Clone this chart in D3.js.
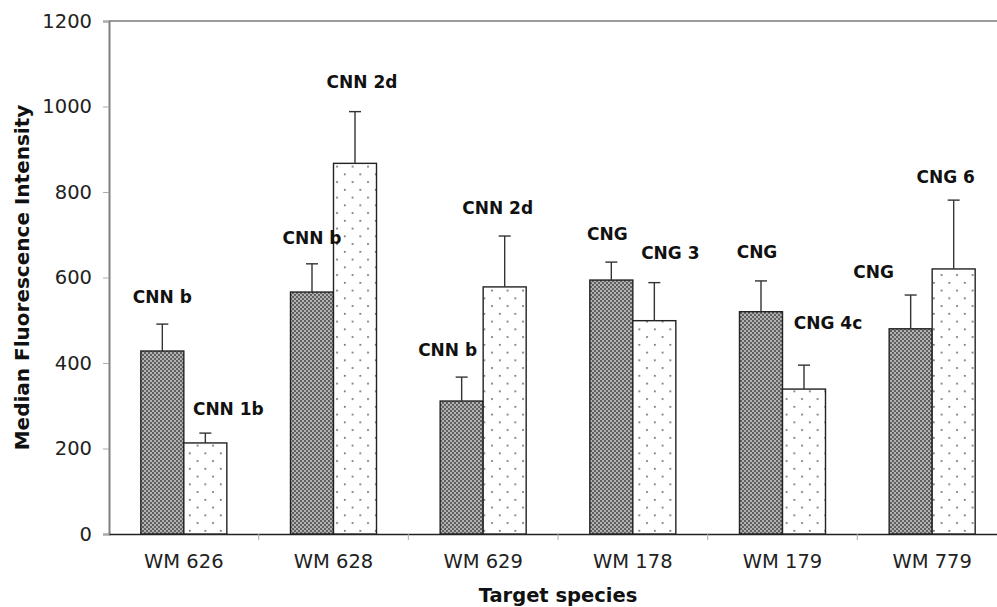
<!DOCTYPE html>
<html>
<head>
<meta charset="utf-8">
<script src="https://cdn.jsdelivr.net/npm/d3@7"></script>
<style>
  body { margin: 0; background: #fff; }
  svg { display: block; font-family: "DejaVu Sans", Verdana, sans-serif; }
</style>
</head>
<body>
<div id="chart"></div>
<script>
// data
const categories = ["WM 626", "WM 628", "WM 629", "WM 178", "WM 179", "WM 779"]
const darkValues = [428, 566, 311, 594, 520, 480]
const darkErrors = [63, 66, 56, 42, 72, 79]
const dotValues = [213, 867, 578, 499, 339, 620]
const dotErrors = [23, 121, 119, 89, 56, 161]
const darkLabels = ["CNN b", "CNN b", "CNN b", "CNG", "CNG", "CNG"]
const dotLabels = ["CNN 1b", "CNN 2d", "CNN 2d", "CNG 3", "CNG 4c", "CNG 6"]
const yTicks = [0, 200, 400, 600, 800, 1000, 1200]

// small hand nudges for the labels (px), as they sit in the original
const darkNudge = [[0, 0], [0, 1], [-14, 0], [-4, -1], [-4, -2], [-37, 4]]
const dotNudge = [[23, 3], [7, -3], [-7, -1], [16, -3], [24, -15], [-8, 4]]

const width = 997
const height = 607
const margin = { top: 21, left: 109, bottom: 73 }
const plotRight = 1007 // the plot area runs past the right edge of the picture

const svg = d3.select("#chart")
    .append("svg")
    .attr("width", width)
    .attr("height", height)

const defs = svg.append("defs")

// fine dark checker for the first series
const checker = defs.append("pattern")
    .attr("id", "checker")
    .attr("width", 4)
    .attr("height", 4)
    .attr("patternUnits", "userSpaceOnUse")
checker.append("rect").attr("width", 4).attr("height", 4).attr("fill", "#b2b2b2")
checker.append("rect").attr("width", 2).attr("height", 2).attr("fill", "#606060")
checker.append("rect").attr("x", 2).attr("y", 2).attr("width", 2).attr("height", 2).attr("fill", "#606060")

// sparse staggered dots for the second series
const dots = defs.append("pattern")
    .attr("id", "dots")
    .attr("width", 15.5)
    .attr("height", 15.5)
    .attr("patternUnits", "userSpaceOnUse")
dots.append("rect").attr("width", 15.5).attr("height", 15.5).attr("fill", "#fff")
dots.append("rect").attr("x", 3).attr("y", 3).attr("width", 1.6).attr("height", 1.6).attr("fill", "#555")
dots.append("rect").attr("x", 10.75).attr("y", 10.75).attr("width", 1.6).attr("height", 1.6).attr("fill", "#555")

const x0 = d3.scaleBand()
    .domain(categories)
    .range([margin.left, plotRight])
    .padding(0)

const x1 = d3.scaleBand()
    .domain(["dark", "dot"])
    .range([0, x0.bandwidth()])
    .paddingInner(0)
    .paddingOuter(0.74)

const y = d3.scaleLinear()
    .domain([0, 1200])
    .range([height - margin.bottom, margin.top])

const rows = categories.map((c, i) => ([
    { cat: c, key: "dark", value: darkValues[i], err: darkErrors[i], label: darkLabels[i], nudge: darkNudge[i] },
    { cat: c, key: "dot", value: dotValues[i], err: dotErrors[i], label: dotLabels[i], nudge: dotNudge[i] }
])).flat()

// plot area border (top edge) and axes
svg.append("line")
    .attr("x1", margin.left).attr("x2", plotRight)
    .attr("y1", y(1200)).attr("y2", y(1200))
    .attr("stroke", "#7a7a7a").attr("stroke-width", 1.5)

const yAxis = svg.append("g")
    .attr("transform", `translate(${margin.left},0)`)
    .call(d3.axisLeft(y).tickValues(yTicks).tickSize(6).tickPadding(11).tickFormat(d3.format("d")))
yAxis.select(".domain").attr("stroke", "#808080").attr("stroke-width", 2)
yAxis.selectAll(".tick line").attr("stroke", "#aaa")
yAxis.selectAll(".tick text")
    .attr("font-size", 19.5)
    .attr("fill", "#222")
    .attr("font-family", "DejaVu Sans")

const xAxis = svg.append("g")
    .attr("transform", `translate(0,${y(0)})`)
    .call(d3.axisBottom(x0).tickSize(0).tickPadding(20))
xAxis.select(".domain").attr("stroke", "#222").attr("stroke-width", 1.5)
xAxis.selectAll(".tick text")
    .attr("font-size", 19.5)
    .attr("fill", "#222")
    .attr("font-family", "DejaVu Sans")

// category separators below the axis
svg.append("g")
    .selectAll("line")
    .data(categories.slice(1))
    .join("line")
    .attr("x1", d => x0(d)).attr("x2", d => x0(d))
    .attr("y1", y(0)).attr("y2", y(0) + 6)
    .attr("stroke", "#aaa")

// bars
const bars = svg.append("g")
bars.selectAll("rect")
    .data(rows)
    .join("rect")
    .attr("x", d => x0(d.cat) + x1(d.key))
    .attr("y", d => y(d.value))
    .attr("width", x1.bandwidth())
    .attr("height", d => y(0) - y(d.value))
    .attr("fill", d => d.key === "dark" ? "url(#checker)" : "url(#dots)")
    .attr("stroke", "#222")
    .attr("stroke-width", 1.4)

// error bars (upper half only)
const err = svg.append("g")
    .attr("stroke", "#333")
    .attr("stroke-width", 1.4)
err.selectAll(".stem")
    .data(rows)
    .join("line")
    .attr("class", "stem")
    .attr("x1", d => x0(d.cat) + x1(d.key) + x1.bandwidth() / 2)
    .attr("x2", d => x0(d.cat) + x1(d.key) + x1.bandwidth() / 2)
    .attr("y1", d => y(d.value))
    .attr("y2", d => y(d.value + d.err))
err.selectAll(".cap")
    .data(rows)
    .join("line")
    .attr("class", "cap")
    .attr("x1", d => x0(d.cat) + x1(d.key) + x1.bandwidth() / 2 - 6)
    .attr("x2", d => x0(d.cat) + x1(d.key) + x1.bandwidth() / 2 + 6)
    .attr("y1", d => y(d.value + d.err))
    .attr("y2", d => y(d.value + d.err))

// bold labels above each bar
svg.append("g")
    .selectAll("text")
    .data(rows)
    .join("text")
    .attr("x", d => x0(d.cat) + x1(d.key) + x1.bandwidth() / 2 + d.nudge[0])
    .attr("y", d => y(d.value + d.err) - 27 + d.nudge[1])
    .attr("text-anchor", "middle")
    .attr("dominant-baseline", "central")
    .attr("font-size", 17)
    .attr("font-weight", "bold")
    .attr("fill", "#111")
    .text(d => d.label)

// axis titles
svg.append("text")
    .attr("x", (margin.left + plotRight) / 2)
    .attr("y", 595)
    .attr("text-anchor", "middle")
    .attr("dominant-baseline", "central")
    .attr("font-size", 19.5)
    .attr("font-weight", "bold")
    .attr("fill", "#111")
    .text("Target species")

svg.append("text")
    .attr("transform", `translate(22,${(y(0) + y(1200)) / 2}) rotate(-90)`)
    .attr("text-anchor", "middle")
    .attr("dominant-baseline", "central")
    .attr("font-size", 20)
    .attr("font-weight", "bold")
    .attr("fill", "#111")
    .text("Median Fluorescence Intensity")
</script>
</body>
</html>
